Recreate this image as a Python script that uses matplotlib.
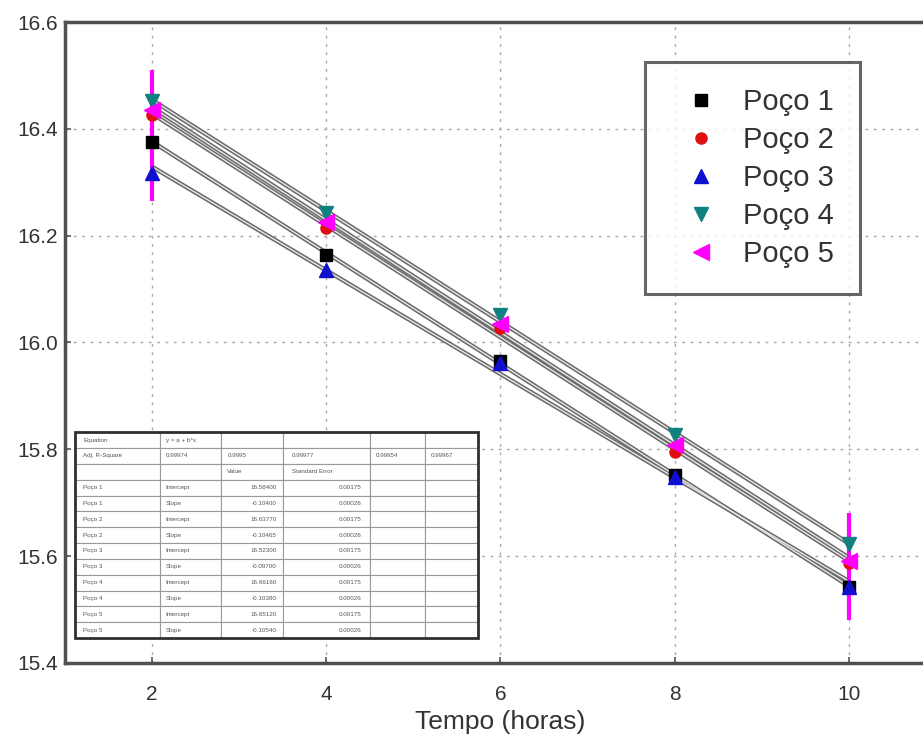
import numpy as np
import matplotlib
matplotlib.use('Agg')
import matplotlib.pyplot as plt
from matplotlib.patches import Rectangle

plt.rcParams['font.family'] = ['Liberation Sans', 'DejaVu Sans']

# data
tempo = [2, 4, 6, 8, 10]
poco1 = [16.376, 16.164, 15.966, 15.752, 15.542]
poco2 = [16.425, 16.214, 16.027, 15.795, 15.588]
poco3 = [16.318, 16.136, 15.961, 15.748, 15.542]
poco4 = [16.452, 16.242, 16.052, 15.826, 15.622]
poco5 = [16.435, 16.226, 16.035, 15.808, 15.590]
poco5_err_low = [0.17, 0.0, 0.0, 0.0, 0.11]
poco5_err_high = [0.075, 0.0, 0.0, 0.0, 0.09]

names = ['Poço 1', 'Poço 2', 'Poço 3', 'Poço 4', 'Poço 5']
series = [poco1, poco2, poco3, poco4, poco5]
markers = ['s', 'o', '^', 'v', '<']
colors = ['black', '#e01010', '#1010d0', '#108080', '#ff00ff']
msizes = [8, 8, 10, 10, 11]

xticks = [2, 4, 6, 8, 10]
yticks = [15.4, 15.6, 15.8, 16.0, 16.2, 16.4, 16.6]

fig = plt.figure(figsize=(9.23, 7.36), dpi=100)
ax = fig.add_axes([0.0704, 0.0992, 0.9437, 0.8709])

x = np.array(tempo, dtype=float)
fits = []
for ys in series:
    b, a = np.polyfit(x, ys, 1)
    fits.append((a, b))
    xx = np.array([2, 10])
    ax.plot(xx, a + b * xx, color='#6a6a6a', lw=3.2, zorder=2, solid_capstyle='butt')
    ax.plot(xx, a + b * xx, color='#e8e8e8', lw=1.0, zorder=2.1, solid_capstyle='butt')

ax.errorbar(tempo, poco5, yerr=[poco5_err_low, poco5_err_high], fmt='none',
            ecolor='#ff00ff', elinewidth=3, capsize=0, zorder=3.5)

handles = []
for ys, m, c, ms, nm in zip(series, markers, colors, msizes, names):
    h, = ax.plot(tempo, ys, linestyle='none', marker=m, color=c, ms=ms,
                 markeredgecolor=c, zorder=4, label=nm)
    handles.append(h)

ax.set_xlim(1, 11)
ax.set_ylim(15.4, 16.6)
ax.set_xticks(xticks)
ax.set_yticks(yticks)
ax.set_yticklabels(['15.4', '15.6', '15.8', '16.0', '16.2', '16.4', '16.6'])
ax.grid(True, color='#a8a8a8', linestyle=(0, (2, 4)), linewidth=1.0)
ax.set_axisbelow(True)
ax.tick_params(direction='in', length=4, width=1.2, colors='#555555',
               labelcolor='#333333', labelsize=15)
ax.tick_params(axis='x', pad=16)
ax.tick_params(axis='y', pad=5)
for s in ['left', 'top', 'bottom', 'right']:
    ax.spines[s].set_color('#505050')
    ax.spines[s].set_linewidth(2.5)
ax.set_xlabel('Tempo (horas)', fontsize=19, color='#333333', labelpad=4)

leg = ax.legend(handles=handles, loc='upper left', bbox_to_anchor=(0.666, 0.9376),
                borderaxespad=0, fontsize=21, frameon=True, fancybox=False,
                handlelength=2.0, handletextpad=0.45, borderpad=0.9,
                labelspacing=0.34, numpoints=1)
leg.get_frame().set_edgecolor('#404040')
leg.get_frame().set_linewidth(2.2)
for t in leg.get_texts():
    t.set_color('#333333')

# fit results table (illegible in the source, rebuilt from the fits)
rows = [['Equation', 'y = a + b*x', '', '', '', ''],
        ['Adj. R-Square', '0.99974', '0.9995', '0.99977', '0.99954', '0.99967'],
        ['', '', 'Value', 'Standard Error', '', '']]
for nm, (a, b) in zip(names, fits):
    rows.append([nm, 'Intercept', '%.5f' % a, '0.00175', '', ''])
    rows.append([nm, 'Slope', '%.5f' % b, '0.00026', '', ''])

tab = ax.table(cellText=rows, bbox=[0.0115, 0.039, 0.4625, 0.321],
               colWidths=[85, 62, 62, 88, 55, 53], cellLoc='left', zorder=5)
tab.auto_set_font_size(False)
tab.set_fontsize(4.5)
for (r, c), cell in tab.get_celld().items():
    cell.set_edgecolor('#9a9a9a')
    cell.set_linewidth(0.8)
    cell.set_facecolor('white')
    cell.get_text().set_color('#555555')
    if c in (2, 3) and r > 2:
        cell.get_text().set_horizontalalignment('right')
        cell._loc = 'right'
ax.add_patch(Rectangle((0.0115, 0.039), 0.4625, 0.321, transform=ax.transAxes,
                       fill=False, edgecolor='#303030', lw=2.0, zorder=6))

fig.savefig('out.png', dpi=100)
